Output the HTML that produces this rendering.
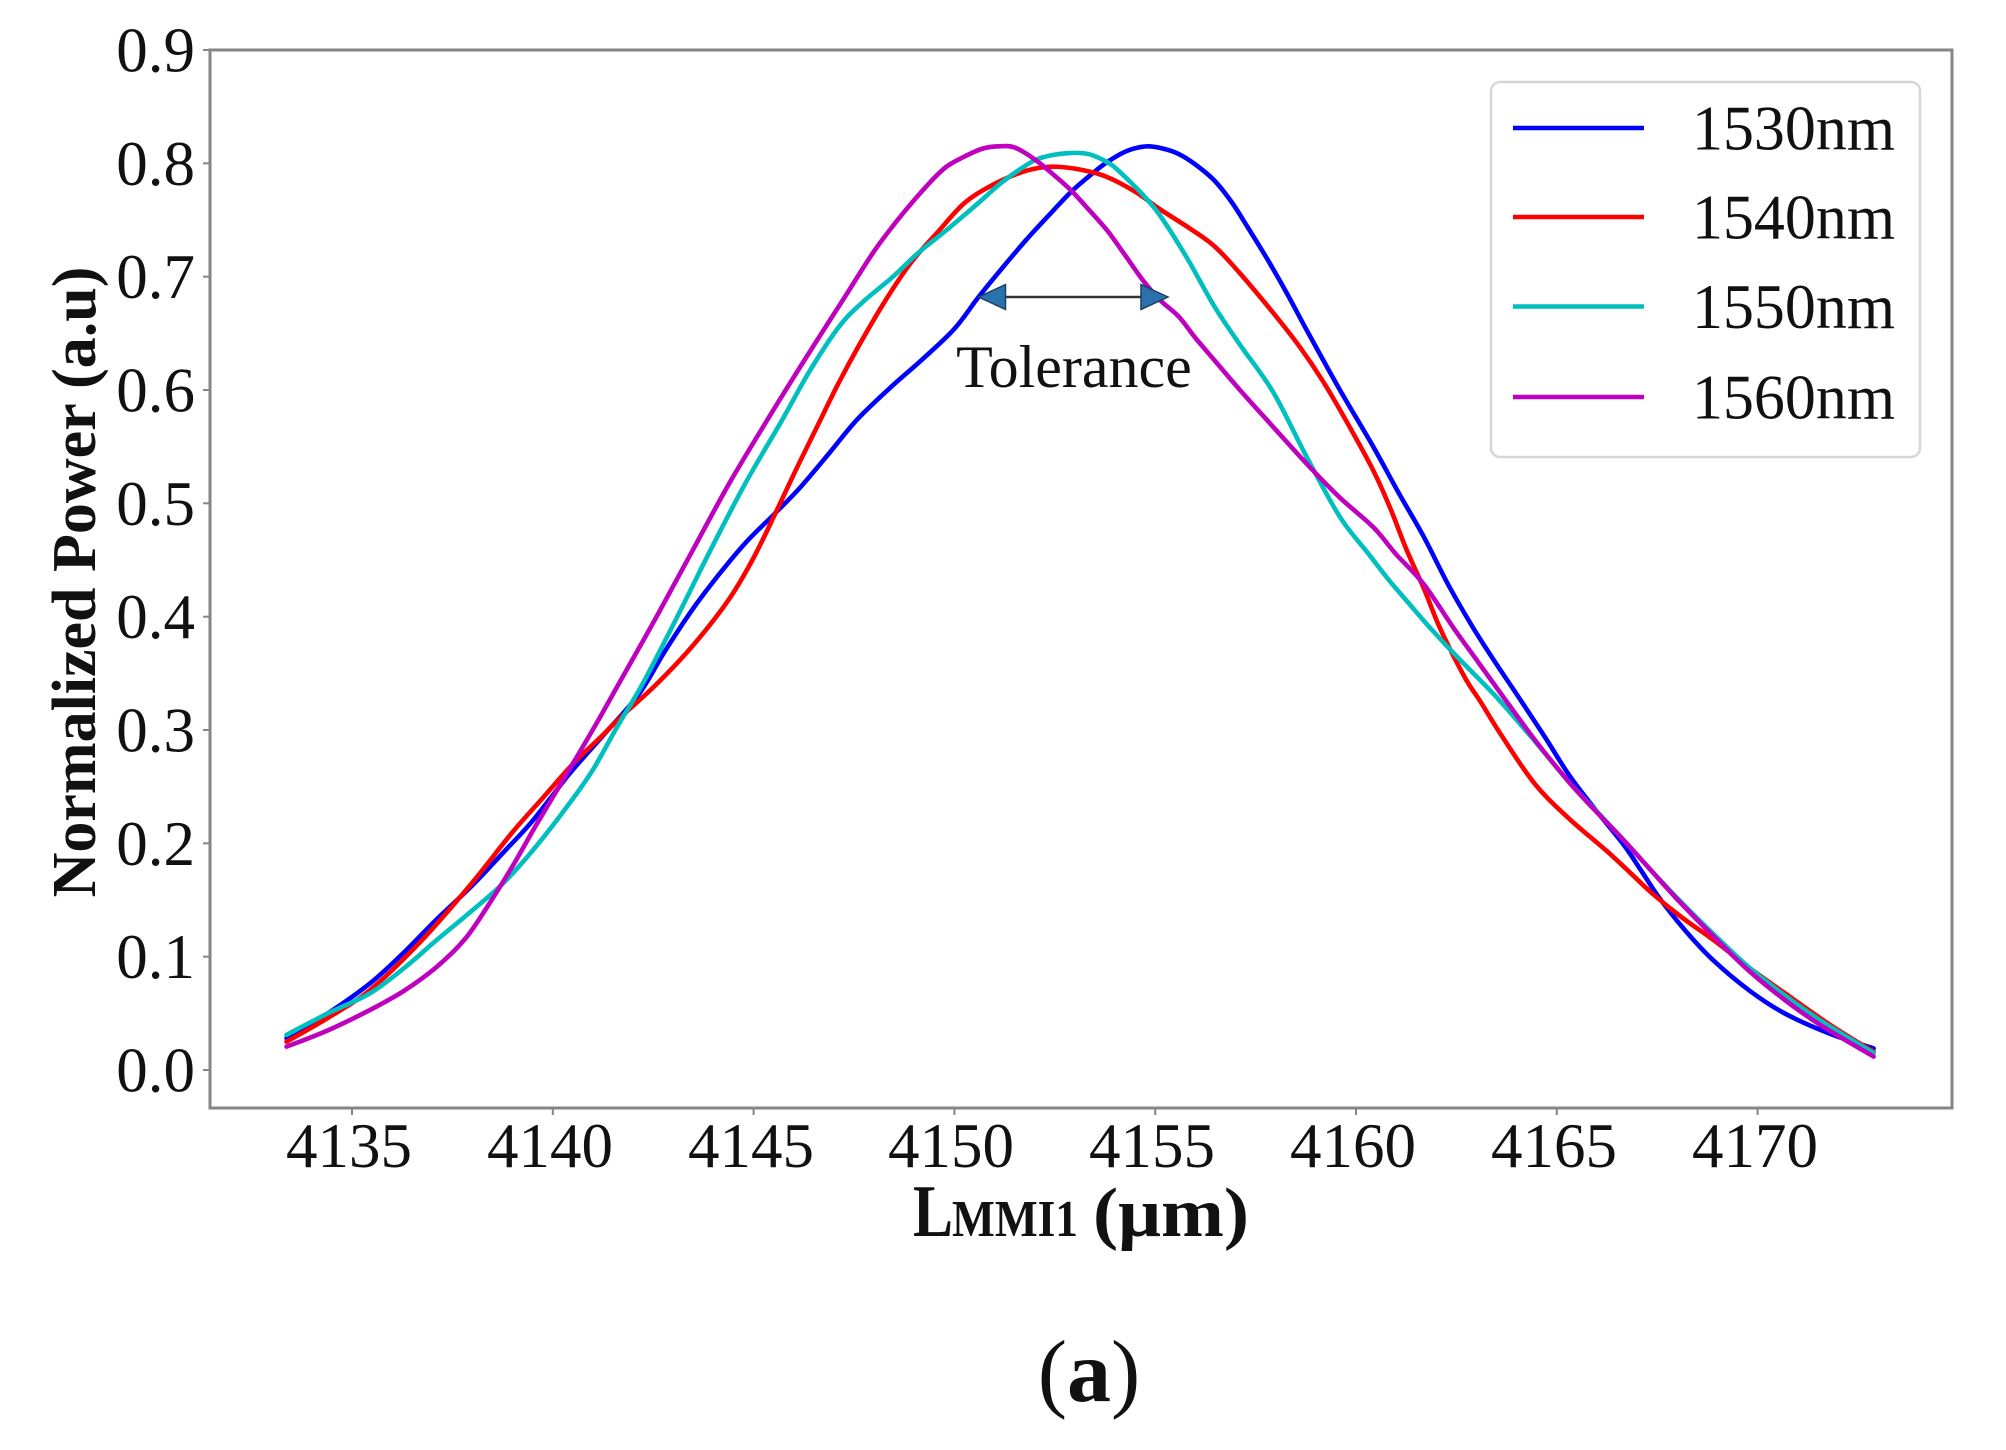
<!DOCTYPE html>
<html>
<head>
<meta charset="utf-8">
<style>
html,body{margin:0;padding:0;background:#ffffff;}
svg{display:block;}
</style>
</head>
<body>
<svg width="2006" height="1450" viewBox="0 0 2006 1450" xmlns="http://www.w3.org/2000/svg" font-family="'Liberation Serif', 'Times New Roman', serif">
<rect x="0" y="0" width="2006" height="1450" fill="#ffffff"/>

<!-- curves -->
<g transform="matrix(40.16,0,0,-1133.3,151.2,1070)" fill="none" stroke-width="4.6" stroke-linejoin="round" stroke-linecap="round">
<path class="c" vector-effect="non-scaling-stroke" stroke="#0000ff" d="M3.37,0.028 L4.4,0.050 L5.45,0.0765 L6.3,0.104 L7.11,0.133 L8.0,0.163 L8.77,0.192 L9.5,0.220 L10.43,0.262 L11.3,0.297 L12.15,0.332 L12.8,0.370 L13.49,0.407 L14.2,0.440 L14.82,0.466 L15.5,0.490 L16.16,0.514 L16.9,0.545 L17.58,0.574 L18.4,0.602 L19.2,0.627 L20.0,0.654 L20.6,0.682 L21.2,0.708 L21.8,0.733 L22.4,0.756 L22.91,0.775 L23.4,0.790 L23.8,0.801 L24.3,0.811 L24.78,0.815 L25.2,0.813 L25.6,0.808 L26.0,0.799 L26.47,0.785 L26.9,0.766 L27.28,0.745 L27.8,0.715 L28.3,0.684 L28.77,0.653 L29.6,0.600 L30.43,0.550 L31.05,0.510 L31.68,0.471 L32.3,0.428 L32.92,0.390 L33.5,0.358 L34.03,0.330 L34.7,0.294 L35.33,0.259 L36.0,0.228 L36.66,0.199 L37.1,0.176 L37.55,0.152 L38.2,0.123 L38.89,0.097 L39.8,0.070 L40.67,0.050 L41.8,0.032 L42.89,0.019"/>
<path class="c" vector-effect="non-scaling-stroke" stroke="#ff0000" d="M3.37,0.025 L4.4,0.046 L5.45,0.0706 L6.7,0.113 L7.94,0.163 L9.0,0.210 L9.75,0.240 L10.5,0.270 L11.2,0.294 L11.71,0.312 L12.6,0.341 L13.5,0.375 L14.38,0.415 L15.0,0.452 L15.62,0.497 L16.1,0.533 L16.6,0.569 L17.1,0.605 L17.65,0.641 L18.3,0.680 L18.91,0.712 L19.6,0.740 L20.25,0.765 L20.9,0.780 L21.58,0.791 L22.1,0.796 L22.56,0.797 L23.2,0.794 L23.8,0.788 L24.5,0.775 L25.14,0.759 L25.8,0.744 L26.47,0.727 L27.11,0.703 L27.94,0.668 L28.6,0.638 L29.19,0.607 L29.8,0.570 L30.43,0.529 L30.85,0.496 L31.26,0.459 L31.7,0.424 L32.09,0.390 L32.7,0.347 L33.1,0.325 L33.59,0.297 L34.44,0.253 L35.3,0.222 L36.22,0.194 L36.8,0.175 L37.37,0.156 L38.1,0.135 L38.89,0.115 L39.8,0.090 L40.67,0.068 L41.8,0.040 L42.89,0.016"/>
<path class="c" vector-effect="non-scaling-stroke" stroke="#00bfbf" d="M3.37,0.031 L4.4,0.050 L5.45,0.0677 L6.3,0.090 L7.11,0.1147 L7.9,0.138 L8.77,0.165 L9.6,0.198 L10.43,0.236 L11.0,0.265 L11.59,0.302 L12.24,0.341 L13.1,0.400 L13.93,0.459 L14.8,0.518 L15.71,0.5735 L16.4,0.617 L17.13,0.656 L17.7,0.677 L18.47,0.700 L19.1,0.721 L19.8,0.741 L20.5,0.762 L21.14,0.782 L21.6,0.794 L22.02,0.803 L22.4,0.807 L22.83,0.809 L23.2,0.809 L23.45,0.807 L23.9,0.799 L24.25,0.788 L24.7,0.772 L25.14,0.753 L25.8,0.716 L26.47,0.674 L27.11,0.640 L27.94,0.598 L28.77,0.541 L29.6,0.488 L30.3,0.456 L30.85,0.431 L31.36,0.410 L31.76,0.3935 L32.24,0.375 L32.7,0.358 L33.55,0.327 L34.48,0.289 L35.33,0.253 L36.0,0.228 L36.66,0.203 L37.3,0.178 L37.99,0.152 L38.9,0.120 L39.77,0.091 L40.67,0.066 L41.55,0.044 L42.89,0.015"/>
<path class="c" vector-effect="non-scaling-stroke" stroke="#bf00bf" d="M3.37,0.0206 L4.4,0.035 L5.45,0.053 L6.3,0.070 L7.11,0.091 L7.8,0.115 L8.35,0.143 L9.0,0.180 L9.6,0.217 L10.46,0.268 L11.09,0.306 L11.71,0.345 L12.6,0.401 L13.49,0.459 L14.4,0.518 L15.4,0.577 L16.1,0.617 L16.69,0.650 L17.27,0.682 L18.02,0.7235 L18.7,0.755 L19.36,0.782 L19.8,0.797 L20.25,0.806 L20.7,0.813 L21.1,0.815 L21.5,0.814 L22.02,0.803 L22.5,0.789 L22.91,0.776 L23.35,0.759 L23.8,0.741 L24.25,0.719 L24.69,0.697 L25.1,0.680 L25.58,0.665 L26.0,0.646 L26.47,0.6265 L27.11,0.600 L27.72,0.576 L28.77,0.535 L29.6,0.505 L30.43,0.479 L31.0,0.455 L31.68,0.429 L32.43,0.390 L33.0,0.362 L33.59,0.333 L34.48,0.290 L35.33,0.253 L35.9,0.231 L36.66,0.203 L37.3,0.178 L37.99,0.151 L38.9,0.118 L39.77,0.088 L40.67,0.062 L41.55,0.040 L42.89,0.0118"/>
</g>

<!-- axes frame -->
<rect x="210" y="50" width="1742" height="1058" fill="none" stroke="#858585" stroke-width="3"/>

<!-- y ticks -->
<g stroke="#858585" stroke-width="2">
<line x1="203" y1="1070" x2="210" y2="1070"/>
<line x1="203" y1="956.7" x2="210" y2="956.7"/>
<line x1="203" y1="843.3" x2="210" y2="843.3"/>
<line x1="203" y1="730" x2="210" y2="730"/>
<line x1="203" y1="616.7" x2="210" y2="616.7"/>
<line x1="203" y1="503.3" x2="210" y2="503.3"/>
<line x1="203" y1="390" x2="210" y2="390"/>
<line x1="203" y1="276.7" x2="210" y2="276.7"/>
<line x1="203" y1="163.3" x2="210" y2="163.3"/>
<line x1="203" y1="50" x2="210" y2="50"/>
</g>
<g font-size="63" fill="#111" text-anchor="end">
<text x="195" y="1091.5">0.0</text>
<text x="195" y="978.2">0.1</text>
<text x="195" y="864.8">0.2</text>
<text x="195" y="751.5">0.3</text>
<text x="195" y="638.2">0.4</text>
<text x="195" y="524.8">0.5</text>
<text x="195" y="411.5">0.6</text>
<text x="195" y="298.2">0.7</text>
<text x="195" y="184.8">0.8</text>
<text x="195" y="71.5">0.9</text>
</g>

<!-- x ticks -->
<g stroke="#858585" stroke-width="2">
<line x1="352" y1="1108" x2="352" y2="1115"/>
<line x1="552.8" y1="1108" x2="552.8" y2="1115"/>
<line x1="753.6" y1="1108" x2="753.6" y2="1115"/>
<line x1="954.4" y1="1108" x2="954.4" y2="1115"/>
<line x1="1155.2" y1="1108" x2="1155.2" y2="1115"/>
<line x1="1356" y1="1108" x2="1356" y2="1115"/>
<line x1="1556.8" y1="1108" x2="1556.8" y2="1115"/>
<line x1="1757.6" y1="1108" x2="1757.6" y2="1115"/>
</g>
<g font-size="63" fill="#111" text-anchor="middle">
<text x="349" y="1167">4135</text>
<text x="550" y="1167">4140</text>
<text x="751" y="1167">4145</text>
<text x="951" y="1167">4150</text>
<text x="1152" y="1167">4155</text>
<text x="1353" y="1167">4160</text>
<text x="1554" y="1167">4165</text>
<text x="1755" y="1167">4170</text>
</g>

<!-- axis labels -->
<text transform="translate(95,582) rotate(-90)" text-anchor="middle" font-size="62" font-weight="bold" fill="#111">Normalized Power (a.u)</text>
<g font-weight="bold" fill="#111">
<text x="913" y="1236" font-size="74" textLength="40" lengthAdjust="spacingAndGlyphs">L</text>
<text x="952" y="1236" font-size="52" textLength="126" lengthAdjust="spacingAndGlyphs">MMI1</text>
<text x="1093" y="1236" font-size="70" textLength="156" lengthAdjust="spacingAndGlyphs">(μm)</text>
</g>

<!-- annotation -->
<line x1="1003" y1="297" x2="1143" y2="297" stroke="#333" stroke-width="2.5"/>
<polygon points="978.6,297 1005.5,284.5 1005.5,309.5" fill="#2a72ae" stroke="#1d3f5e" stroke-width="1.5"/>
<polygon points="1168,297 1141,284.5 1141,309.5" fill="#2a72ae" stroke="#1d3f5e" stroke-width="1.5"/>
<text x="1074" y="387" font-size="60" text-anchor="middle" fill="#111">Tolerance</text>

<!-- legend -->
<rect x="1491" y="82" width="429" height="375" rx="9" ry="9" fill="#ffffff" stroke="#d6d6d6" stroke-width="2.5"/>
<g stroke-width="4.5">
<line x1="1513" y1="128" x2="1644" y2="128" stroke="#0000ff"/>
<line x1="1513" y1="217" x2="1644" y2="217" stroke="#ff0000"/>
<line x1="1513" y1="306.5" x2="1644" y2="306.5" stroke="#00bfbf"/>
<line x1="1513" y1="397" x2="1644" y2="397" stroke="#bf00bf"/>
</g>
<g font-size="63" fill="#111">
<text x="1692" y="149.5" textLength="203" lengthAdjust="spacingAndGlyphs">1530nm</text>
<text x="1692" y="238.5" textLength="203" lengthAdjust="spacingAndGlyphs">1540nm</text>
<text x="1692" y="328" textLength="203" lengthAdjust="spacingAndGlyphs">1550nm</text>
<text x="1692" y="418.5" textLength="203" lengthAdjust="spacingAndGlyphs">1560nm</text>
</g>

<!-- caption -->
<g font-size="88" fill="#111">
<text x="1089" y="1401" text-anchor="middle"><tspan font-weight="normal">(</tspan><tspan font-weight="bold">a</tspan><tspan font-weight="normal">)</tspan></text>
</g>
</svg>
<script>
(function(){
  var paths = document.querySelectorAll('path.c');
  for (var k = 0; k < paths.length; k++) {
    var p = paths[k];
    var nums = p.getAttribute('d').replace(/[ML]/g,' ').trim().split(/[\s,]+/).map(Number);
    var pts = [];
    for (var i = 0; i + 1 < nums.length; i += 2) pts.push([nums[i], nums[i+1]]);
    if (pts.length < 3) continue;
    var d = 'M' + pts[0][0] + ',' + pts[0][1];
    for (var j = 0; j < pts.length - 1; j++) {
      var p0 = pts[j-1] || pts[j], p1 = pts[j], p2 = pts[j+1], p3 = pts[j+2] || pts[j+1];
      var c1x = p1[0] + (p2[0]-p0[0])/6, c1y = p1[1] + (p2[1]-p0[1])/6;
      var c2x = p2[0] - (p3[0]-p1[0])/6, c2y = p2[1] - (p3[1]-p1[1])/6;
      d += ' C' + c1x.toFixed(4) + ',' + c1y.toFixed(5) + ' ' + c2x.toFixed(4) + ',' + c2y.toFixed(5) + ' ' + p2[0] + ',' + p2[1];
    }
    p.setAttribute('d', d);
  }
})();
</script>
</body>
</html>
